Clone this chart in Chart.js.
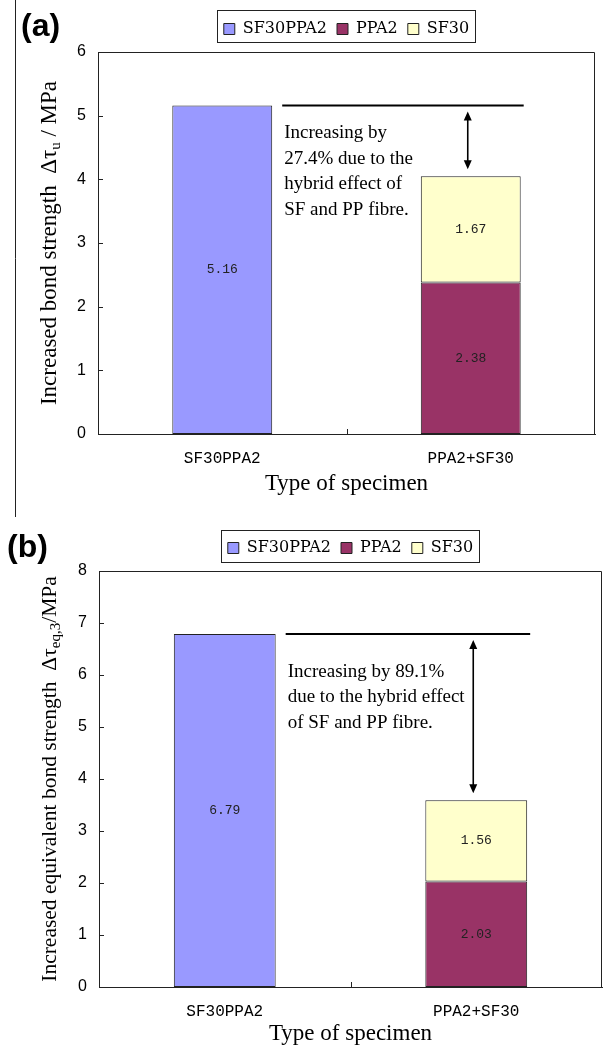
<!DOCTYPE html>
<html>
<head>
<meta charset="utf-8">
<script src="https://cdn.jsdelivr.net/npm/chart.js@4/dist/chart.umd.min.js"></script>
<style>
  html, body { margin: 0; padding: 0; background: #fff; }
  #wrap { position: relative; width: 604px; height: 1045px; overflow: hidden; }
  canvas { position: absolute; left: 0; }
</style>
</head>
<body>
<div id="wrap">
  <canvas id="chart-a" width="604" height="525" style="top:0"></canvas>
  <canvas id="chart-b" width="604" height="520" style="top:525px"></canvas>
</div>
<script>
// datos
const categorias = ["SF30PPA2", "PPA2+SF30"];
const series = ["SF30PPA2", "PPA2", "SF30"];
const colores = ["#9999FF", "#993366", "#FFFFCC"];

// (a) incremento de adherencia
const sf30ppa2A = [5.16, null];
const ppa2A = [null, 2.38];
const sf30A = [null, 1.67];
const ticksA = [0, 1, 2, 3, 4, 5, 6];
const notaA = ["Increasing by", "27.4% due to the", "hybrid effect of", "SF and PP fibre."];

// (b) incremento de adherencia equivalente
const sf30ppa2B = [6.79, null];
const ppa2B = [null, 2.03];
const sf30B = [null, 1.56];
const ticksB = [0, 1, 2, 3, 4, 5, 6, 7, 8];
const notaB = ["Increasing by 89.1%", "due to the hybrid effect", "of SF and PP fibre."];

const negro = "#222";

// marco, marcas hacia dentro, titulo del eje y y etiqueta del panel
const marco = {
  id: "marco",
  afterLayout(chart) {
    // sube un poco la leyenda
    chart.legend.top -= 5;
    chart.legend.bottom -= 5;
  },
  afterDraw(chart) {
    const ctx = chart.ctx;
    const a = chart.chartArea;
    const cfg = chart.options.plugins.marco;
    const sx = chart.scales.x, sy = chart.scales.y;
    ctx.save();
    ctx.strokeStyle = negro;
    ctx.lineWidth = 1;
    ctx.beginPath();
    ctx.moveTo(a.left, a.top + 0.5);
    ctx.lineTo(a.right - 0.5, a.top + 0.5);
    ctx.lineTo(a.right - 0.5, a.bottom);
    ctx.stroke();

    // marcas de los ejes, hacia dentro
    ctx.beginPath();
    sy.ticks.forEach(t => {
      const py = Math.round(sy.getPixelForValue(t.value)) + 0.5;
      ctx.moveTo(a.left, py);
      ctx.lineTo(a.left + 5, py);
    });
    for (let i = 0; i < categorias.length - 1; i++) {
      const px = Math.round(sx.getPixelForValue(i + 0.5)) + 0.5;
      ctx.moveTo(px, a.bottom);
      ctx.lineTo(px, a.bottom - 5);
    }
    ctx.stroke();

    if (cfg.lineaIzq) {
      ctx.beginPath();
      ctx.moveTo(15.5, 0);
      ctx.lineTo(15.5, cfg.lineaIzq);
      ctx.stroke();
    }

    // recuadro de la leyenda
    const lg = chart.legend;
    const hb = lg.legendHitBoxes;
    if (hb && hb.length) {
      const centro = lg.top + lg.options.labels.padding + 8;
      const l = Math.min(...hb.map(h => h.left)) - 7;
      const r = Math.max(...hb.map(h => h.left + h.width)) + 6;
      const t = centro - cfg.cajaArriba;
      const b = centro + cfg.cajaAbajo;
      ctx.strokeStyle = "#222";
      ctx.strokeRect(Math.round(l) + 0.5, Math.round(t) + 0.5, Math.round(r - l), Math.round(b - t));
    }

    // etiqueta (a)/(b)
    ctx.fillStyle = "#000";
    ctx.font = "bold 32px 'Liberation Sans', Arial, sans-serif";
    ctx.textBaseline = "middle";
    ctx.textAlign = "left";
    ctx.fillText(cfg.panel, cfg.panelX, cfg.panelY);

    // titulo del eje y con subindice
    const partes = cfg.tituloY;
    const fuente = s => s + "px 'Liberation Serif', 'Times New Roman', serif";
    let total = 0;
    partes.forEach(p => { ctx.font = fuente(p.size); total += ctx.measureText(p.t).width; });
    ctx.translate(50, (a.top + a.bottom) / 2);
    ctx.rotate(-Math.PI / 2);
    let x = -total / 2;
    partes.forEach(p => {
      ctx.font = fuente(p.size);
      ctx.fillText(p.t, x, p.sub ? 6 : 0);
      x += ctx.measureText(p.t).width;
    });
    ctx.restore();
  }
};

// valores dentro de las barras
const etiquetas = {
  id: "etiquetas",
  afterDatasetsDraw(chart) {
    const ctx = chart.ctx;
    ctx.save();
    ctx.font = "13px 'Liberation Mono', monospace";
    ctx.fillStyle = "#222";
    ctx.textAlign = "center";
    ctx.textBaseline = "middle";
    chart.data.datasets.forEach((ds, i) => {
      chart.getDatasetMeta(i).data.forEach((el, j) => {
        const v = ds.data[j];
        if (v == null) return;
        ctx.fillText(v.toFixed(2), el.x, (el.y + el.base) / 2);
      });
    });
    ctx.restore();
  }
};

// linea de referencia, flecha doble y texto
const anotacion = {
  id: "anotacion",
  afterDatasetsDraw(chart) {
    const ctx = chart.ctx;
    const cfg = chart.options.plugins.anotacion;
    const y = chart.scales.y;
    const barra1 = chart.getDatasetMeta(0).data[0];
    const metas = chart.data.datasets.map((d, i) => chart.getDatasetMeta(i).data[1]);
    const cima = Math.min(...metas.filter((el, i) => chart.data.datasets[i].data[1] != null).map(el => el.y));
    const barra2 = metas[1];
    const yRef = y.getPixelForValue(chart.data.datasets[0].data[0]);
    const x0 = barra1.x + barra1.width / 2 + 10;
    const x1 = barra2.x + barra2.width / 2 + 3;
    const xf = barra2.x - 3;

    ctx.save();
    ctx.strokeStyle = "#000";
    ctx.fillStyle = "#000";
    ctx.lineWidth = 2;
    ctx.beginPath();
    ctx.moveTo(x0, yRef);
    ctx.lineTo(x1, yRef);
    ctx.stroke();

    const t = yRef + 6, b = cima - 7;
    ctx.lineWidth = 1.6;
    ctx.beginPath();
    ctx.moveTo(xf, t + 6);
    ctx.lineTo(xf, b - 6);
    ctx.stroke();
    ctx.beginPath();
    ctx.moveTo(xf, t); ctx.lineTo(xf - 4, t + 9); ctx.lineTo(xf + 4, t + 9); ctx.closePath();
    ctx.moveTo(xf, b); ctx.lineTo(xf - 4, b - 9); ctx.lineTo(xf + 4, b - 9); ctx.closePath();
    ctx.fill();

    ctx.font = "19px 'Liberation Serif', 'Times New Roman', serif";
    ctx.textAlign = "left";
    ctx.textBaseline = "middle";
    cfg.texto.forEach((linea, i) => {
      ctx.fillText(linea, x0 + 2, yRef + cfg.dy + i * cfg.paso);
    });
    ctx.restore();
  }
};

function crearGrafica(id, datos, ticks, opts) {
  const canvas = document.getElementById(id);
  const datasets = series.map((nombre, i) => ({
    label: nombre,
    data: datos[i],
    backgroundColor: colores[i],
    borderColor: negro,
    borderWidth: 1,
    borderSkipped: false,
    categoryPercentage: 1,
    barPercentage: opts.barra,
  }));
  return new Chart(canvas, {
    type: "bar",
    data: { labels: categorias, datasets: datasets },
    plugins: [marco, etiquetas, anotacion],
    options: {
      responsive: false,
      animation: false,
      layout: { padding: { top: opts.arriba, right: opts.derecha, left: 0, bottom: 0 } },
      plugins: {
        tooltip: { enabled: false },
        legend: {
          position: "top",
          fullSize: false,
          labels: {
            font: { family: "'DejaVu Serif', serif", size: 16 },
            color: "#000",
            boxWidth: 11,
            boxHeight: 11,
            padding: 10,
          },
        },
        marco: opts.marco,
        anotacion: opts.anotacion,
      },
      scales: {
        x: {
          stacked: true,
          afterFit: s => { s.height = opts.altoX; },
          grid: { display: false, drawTicks: false },
          border: { color: negro, width: 1 },
          ticks: {
            padding: 15,
            color: "#000",
            font: { family: "'Liberation Mono', monospace", size: 16 },
          },
          title: {
            display: true,
            text: "Type of specimen",
            color: "#000",
            font: { family: "'Liberation Serif', serif", size: 23, lineHeight: 1 },
            padding: { top: 0, bottom: opts.tituloAbajo },
          },
        },
        y: {
          stacked: true,
          min: ticks[0],
          max: ticks[ticks.length - 1],
          afterFit: s => { s.width = opts.anchoY; },
          afterBuildTicks: s => { s.ticks = ticks.map(v => ({ value: v })); },
          grid: { display: false, drawTicks: false },
          border: { color: negro, width: 1 },
          ticks: {
            padding: 12,
            color: "#000",
            font: { family: "'Liberation Sans', Arial, sans-serif", size: 16 },
          },
        },
      },
    },
  });
}

crearGrafica("chart-a", [sf30ppa2A, ppa2A, sf30A], ticksA, {
  barra: 0.402,
  arriba: 16,
  derecha: 9,
  altoX: 91,
  anchoY: 98,
  tituloAbajo: 30,
  marco: {
    panel: "(a)", panelX: 21, panelY: 27, lineaIzq: 517,
    cajaArriba: 19, cajaAbajo: 13,
    tituloY: [
      { t: "Increased bond strength  \u0394\u03c4", size: 23 },
      { t: "u", size: 15, sub: true },
      { t: " / MPa", size: 23 },
    ],
  },
  anotacion: { texto: notaA, dy: 28, paso: 25.5 },
});

crearGrafica("chart-b", [sf30ppa2B, ppa2B, sf30B], ticksB, {
  barra: 0.405,
  arriba: 10,
  derecha: 2,
  altoX: 58,
  anchoY: 99,
  tituloAbajo: 0,
  marco: {
    panel: "(b)", panelX: 7, panelY: 23, lineaIzq: 0,
    cajaArriba: 18, cajaAbajo: 14,
    tituloY: [
      { t: "Increased equivalent bond strength  \u0394\u03c4", size: 21.5 },
      { t: "eq,3", size: 15, sub: true },
      { t: "/MPa", size: 21.5 },
    ],
  },
  anotacion: { texto: notaB, dy: 38, paso: 25.5 },
});
</script>
</body>
</html>
